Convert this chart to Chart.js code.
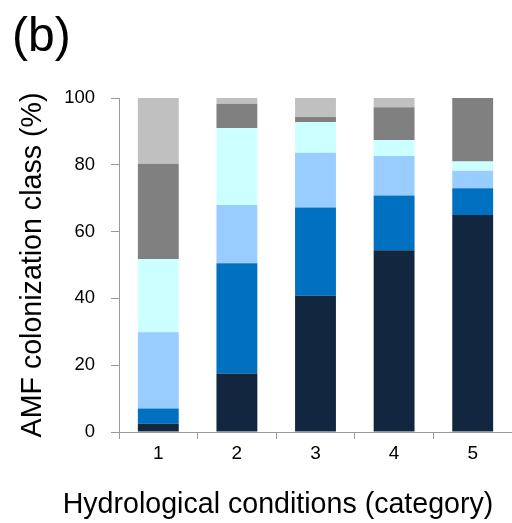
<!DOCTYPE html>
<html>
<head>
<meta charset="utf-8">
<script src="https://cdn.jsdelivr.net/npm/chart.js@4.4.1/dist/chart.umd.min.js"></script>
<style>
  html, body { margin: 0; padding: 0; background: #ffffff; }
  #wrap { width: 512px; height: 523px; position: relative; }
</style>
</head>
<body>
<div id="wrap"><canvas id="chart" width="512" height="523"></canvas></div>
<script>
// Hydrological condition categories (x axis)
const categories = ['1', '2', '3', '4', '5'];

// Share of samples in each AMF colonization class (%), stacked bottom to top
const class1 = [2.5, 17.5, 40.8, 54.4, 65.0];
const class2 = [4.5, 33.0, 26.4, 16.4, 8.0];
const class3 = [22.9, 17.5, 16.4, 11.8, 5.2];
const class4 = [21.9, 23.0, 9.2, 4.8, 2.8];
const class5 = [28.5, 7.3, 1.5, 9.8, 19.0];
const class6 = [19.7, 1.7, 5.7, 2.8, 0.0];

const seriesNames = ['Class 1', 'Class 2', 'Class 3', 'Class 4', 'Class 5', 'Class 6'];
const seriesValues = [class1, class2, class3, class4, class5, class6];
const seriesColors = ['#12263F', '#0070C0', '#99CCFF', '#CCFFFF', '#808080', '#C0C0C0'];

// y axis tick values
const yTicks = [0, 20, 40, 60, 80, 100];

const panelLabel = '(b)';
const xTitle = 'Hydrological conditions (category)';
const yTitle = 'AMF colonization class (%)';

const FONT = "'Liberation Sans', Arial, sans-serif";
const AXIS = '#9a9a9a';

// Panel label and x axis title
const textPlugin = {
  id: 'panelText',
  afterDraw(chart) {
    const ctx = chart.ctx;
    ctx.save();
    ctx.fillStyle = '#000';
    ctx.textBaseline = 'alphabetic';
    ctx.textAlign = 'left';
    ctx.font = '48px ' + FONT;
    ctx.fillText(panelLabel, 12, 51);
    ctx.textAlign = 'center';
    ctx.font = '28.6px ' + FONT;
    ctx.fillText(xTitle, 278, 513);
    ctx.restore();
  }
};

new Chart(document.getElementById('chart'), {
  type: 'bar',
  data: {
    labels: categories,
    datasets: seriesValues.map((vals, i) => ({
      label: seriesNames[i],
      data: vals,
      backgroundColor: seriesColors[i],
      borderWidth: 0,
      barPercentage: 0.52,
      categoryPercentage: 1.0
    }))
  },
  options: {
    responsive: false,
    animation: false,
    devicePixelRatio: 1,
    layout: { padding: { top: 98, left: 0, right: 0, bottom: 0 } },
    plugins: {
      legend: { display: false },
      tooltip: { enabled: false },
      title: { display: false }
    },
    scales: {
      x: {
        stacked: true,
        offset: true,
        grid: {
          display: true,
          offset: true,
          drawOnChartArea: false,
          drawTicks: true,
          tickLength: 7,
          color: AXIS,
          lineWidth: 1
        },
        border: { display: true, color: AXIS, width: 1 },
        ticks: {
          color: '#000',
          font: { family: FONT, size: 19 },
          padding: 3,
          maxRotation: 0
        },
        afterFit(scale) { scale.height = 91; }
      },
      y: {
        stacked: true,
        min: 0,
        max: 100,
        afterBuildTicks(scale) { scale.ticks = yTicks.map(v => ({ value: v })); },
        grid: {
          display: true,
          drawOnChartArea: false,
          drawTicks: true,
          tickLength: 8,
          color: AXIS,
          lineWidth: 1
        },
        border: { display: true, color: AXIS, width: 1 },
        ticks: {
          color: '#000',
          font: { family: FONT, size: 18.5 },
          padding: 16
        },
        title: {
          display: true,
          text: yTitle,
          color: '#000',
          font: { family: FONT, size: 28.6 },
          padding: { top: 16, bottom: 0 }
        },
        afterFit(scale) { scale.width = 119; }
      }
    }
  },
  plugins: [textPlugin]
});
</script>
</body>
</html>
